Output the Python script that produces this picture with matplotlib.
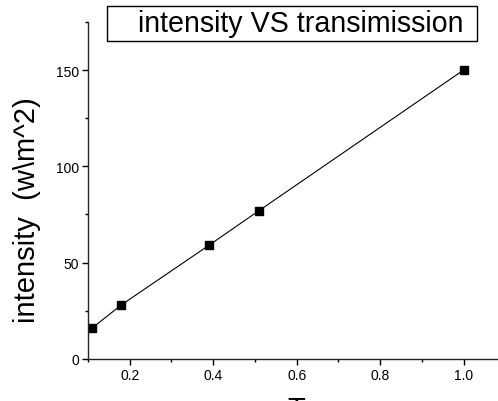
import matplotlib
matplotlib.use('Agg')
import matplotlib.pyplot as plt
from matplotlib.patches import Rectangle
from matplotlib.ticker import MultipleLocator

plt.rcParams['font.family'] = ['Liberation Sans', 'DejaVu Sans']

# data
transmission = [0.11, 0.18, 0.39, 0.51, 1.0]
intensity = [16, 28, 59, 77, 150]
legend_label = 'intensity VS transimission'
x_label = 'T'
y_label = 'intensity  (w\\m^2)'

fig = plt.figure(figsize=(4.98, 4.02), dpi=100)
ax = fig.add_axes([0.1767, 0.105, 0.838, 0.838])

ax.plot(transmission, intensity, color='black', lw=0.8,
        marker='s', markersize=5.3, markerfacecolor='black', markeredgecolor='black')

ax.set_xlim(0.1, 1.1)
ax.set_ylim(0, 175)
ax.xaxis.set_major_locator(MultipleLocator(0.2))
ax.xaxis.set_minor_locator(MultipleLocator(0.1))
ax.yaxis.set_major_locator(MultipleLocator(50))
ax.yaxis.set_minor_locator(MultipleLocator(25))
ax.set_xticks([0.2, 0.4, 0.6, 0.8, 1.0])
ax.set_xticklabels(['0.2', '0.4', '0.6', '0.8', '1.0'])

for side in ['top', 'right']:
    ax.spines[side].set_visible(False)
for side in ['left', 'bottom']:
    ax.spines[side].set_linewidth(1.0)
    ax.spines[side].set_color('#222222')

ax.tick_params(which='major', direction='out', length=4.3, width=1.0, labelsize=10, pad=2)
ax.tick_params(which='minor', direction='out', length=2.3, width=1.0)

# labels
fig.text(0.054, 0.478, y_label, rotation=90, ha='center', va='center', fontsize=21)
# x label sits mostly below the bottom edge, as in the original
fig.text(296 / 498, -0.04, x_label, ha='center', va='baseline', fontsize=21)

# legend box
fig.patches.append(Rectangle((107 / 498, 1 - 42 / 402), 370 / 498, 35 / 402,
                             transform=fig.transFigure, fill=False, edgecolor='black', lw=1.0))
fig.text(138 / 498, 1 - 24.5 / 402, legend_label, ha='left', va='center', fontsize=20.6)

fig.savefig('out.png', dpi=100)
